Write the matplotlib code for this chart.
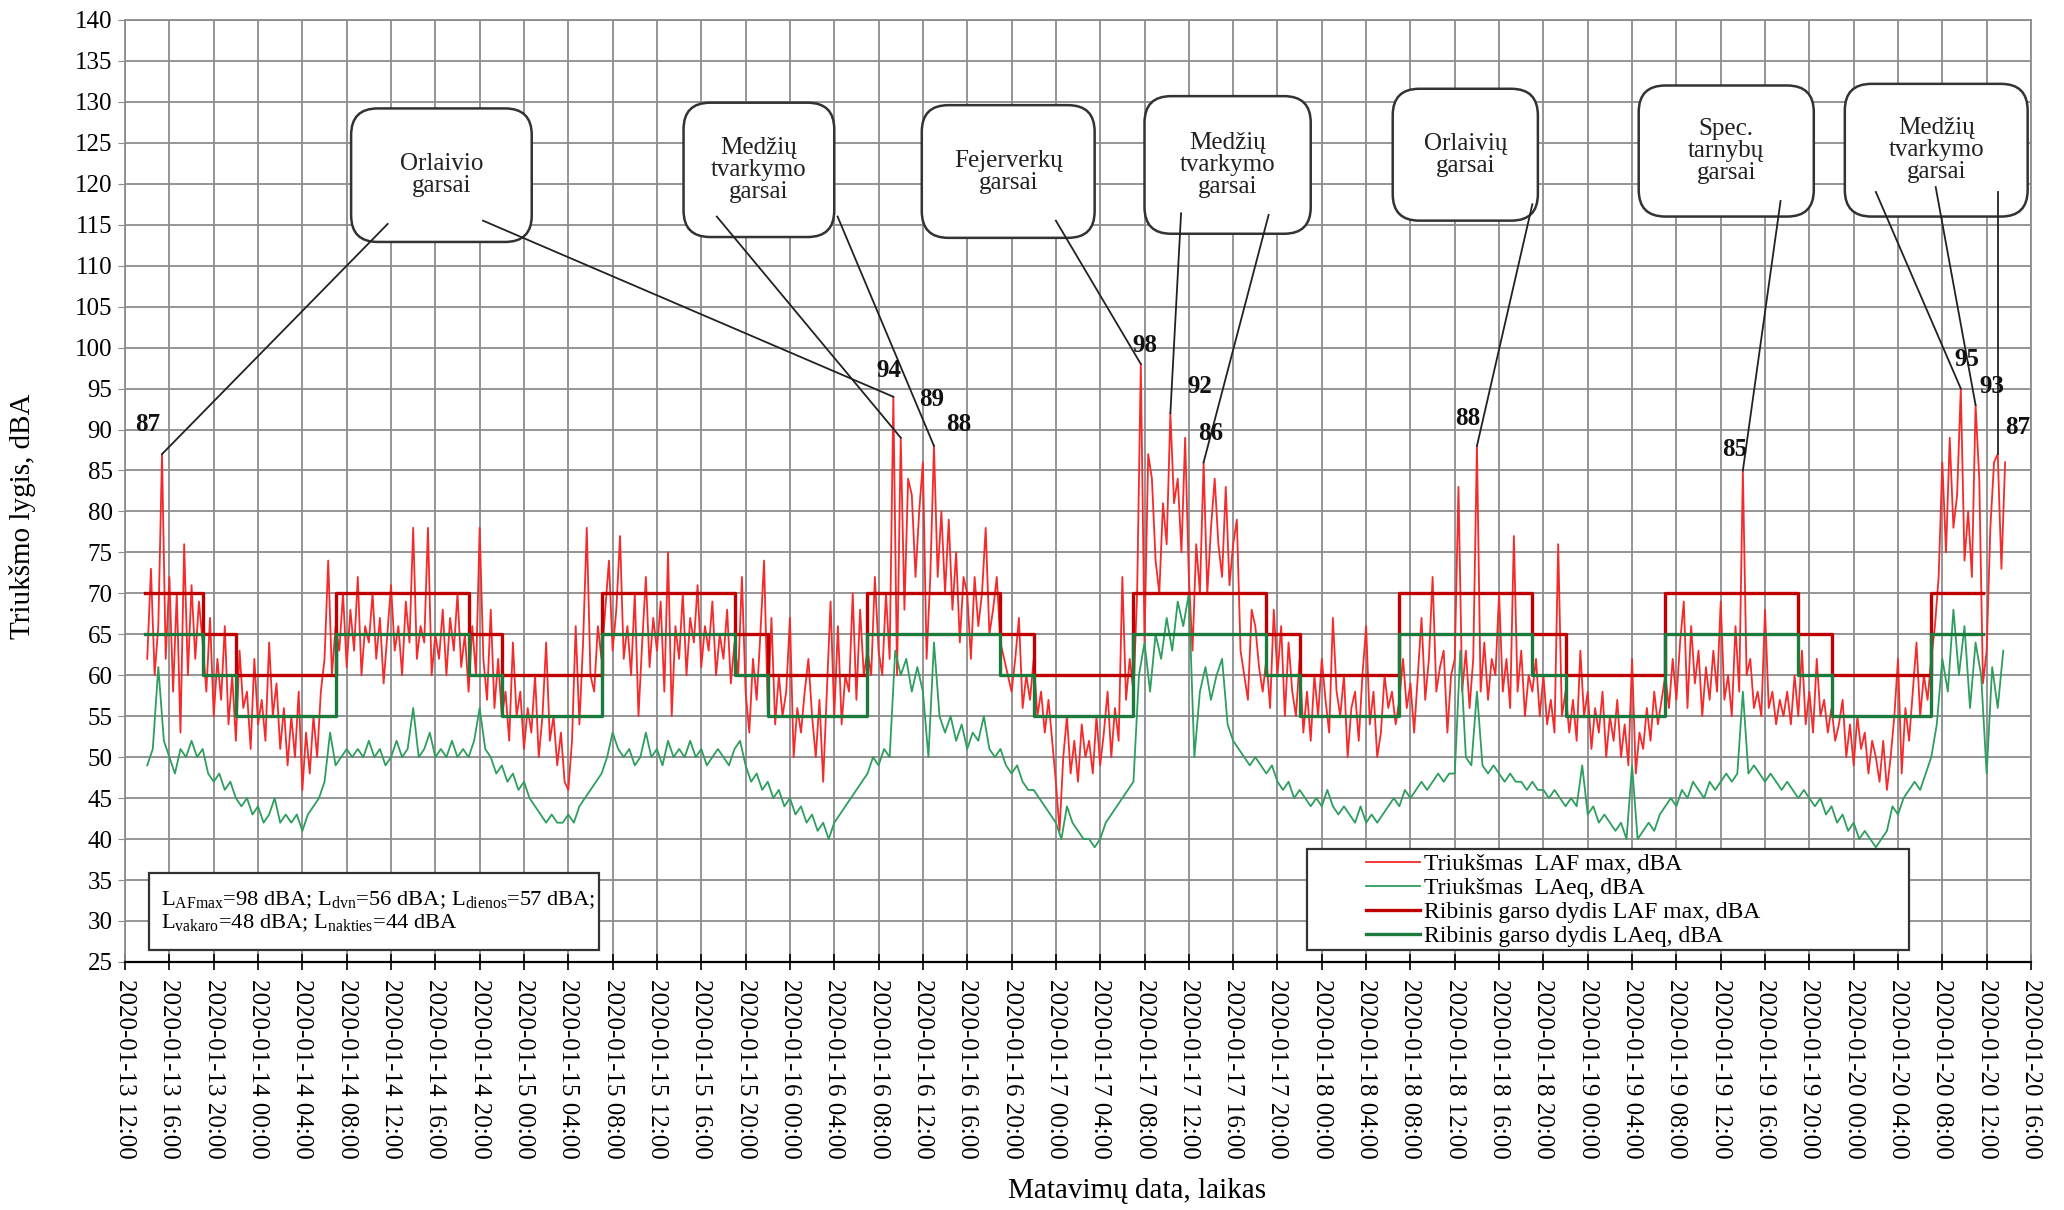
import numpy as np
import matplotlib.pyplot as plt
from matplotlib.patches import FancyBboxPatch, Rectangle
from datetime import datetime, timedelta

plt.rcParams['font.family'] = ['Liberation Serif', 'DejaVu Serif']
plt.rcParams['mathtext.fontset'] = 'custom'
plt.rcParams['mathtext.rm'] = 'Liberation Serif'
plt.rcParams['mathtext.it'] = 'Liberation Serif:italic'
plt.rcParams['mathtext.bf'] = 'Liberation Serif:bold'

# laiko pradzia: 2020-01-13 12:00, x asis valandomis
start = datetime(2020, 1, 13, 12, 0)
tick_hours = np.arange(0, 173, 4)

# Triuksmas LAF max, kas 20 min nuo 14:00 (h = 2.0)
laf_max = [
    62, 73, 60, 66, 87, 62, 72, 58, 70,   # 13d 14-17
    53, 76, 60, 71, 62, 69, 64, 58, 67,
    55, 62, 57, 66, 54, 60, 52, 63, 56,
    58, 51, 62, 54, 57, 52, 64, 55, 59,
    51, 56, 49, 55, 50, 58, 46, 53, 48,
    55, 50, 58, 62, 74, 60, 66, 63, 70,
    61, 68, 63, 72, 60, 66, 64, 70, 62,   # 14d 08-11
    67, 59, 65, 71, 63, 66, 60, 69, 64,
    78, 62, 66, 64, 78, 60, 65, 62, 68,
    60, 67, 63, 70, 61, 65, 58, 66, 60,
    78, 62, 57, 68, 56, 62, 55, 58, 52,
    64, 55, 58, 51, 56, 53, 60, 50, 55,
    64, 52, 55, 49, 53, 47, 46, 52, 66,
    54, 64, 78, 60, 58, 66, 62, 68, 74,
    63, 68, 77, 62, 66, 60, 70, 55, 64,   # 15d 08-11
    72, 61, 67, 63, 69, 58, 75, 55, 66,
    62, 70, 60, 67, 64, 71, 61, 66, 63,
    69, 60, 65, 62, 68, 59, 64, 60, 72,
    58, 53, 62, 57, 65, 74, 56, 67, 54,
    60, 55, 58, 67, 50, 56, 53, 58, 62,
    55, 50, 57, 47, 58, 69, 55, 66, 54,
    60, 58, 70, 57, 68, 60, 63, 60, 72,
    63, 60, 70, 62, 94, 60, 89, 68, 84,   # 16d 08-11
    82, 72, 80, 86, 62, 72, 88, 72, 80,
    70, 79, 68, 75, 64, 72, 70, 62, 72,
    66, 70, 78, 65, 68, 72, 64, 62, 60,
    58, 62, 67, 56, 60, 57, 62, 55, 58,
    53, 57, 52, 47, 41, 50, 55, 48, 52,
    47, 54, 50, 52, 48, 55, 49, 53, 58,
    50, 56, 52, 72, 57, 62, 58, 70, 98,
    64, 87, 84, 74, 70, 81, 76, 92, 81,   # 17d 08-11
    84, 75, 89, 72, 63, 76, 70, 86, 70,
    78, 84, 76, 72, 83, 71, 76, 79, 63,
    60, 57, 68, 66, 61, 58, 62, 56, 68,
    60, 66, 55, 64, 58, 55, 62, 53, 58,
    52, 60, 55, 62, 57, 53, 67, 58, 55,
    60, 50, 56, 58, 52, 60, 66, 54, 58,
    50, 53, 60, 56, 58, 54, 57, 62, 56,
    59, 53, 60, 67, 57, 62, 72, 58, 61,   # 18d 08-11
    63, 53, 60, 62, 83, 58, 63, 56, 62,
    88, 58, 64, 57, 62, 60, 70, 58, 62,
    56, 77, 58, 63, 55, 60, 58, 62, 55,
    60, 54, 57, 53, 76, 55, 58, 53, 57,
    52, 63, 55, 58, 51, 56, 53, 58, 50,
    55, 52, 57, 50, 54, 49, 62, 48, 53,
    51, 56, 52, 58, 54, 57, 60, 56, 62,
    57, 64, 69, 56, 66, 59, 63, 55, 61,   # 19d 08-11
    57, 63, 58, 69, 57, 60, 55, 66, 58,
    85, 60, 62, 56, 58, 55, 68, 56, 58,
    54, 57, 55, 58, 54, 60, 55, 63, 54,
    58, 53, 62, 55, 57, 53, 56, 52, 54,
    57, 50, 54, 49, 55, 51, 53, 48, 52,
    50, 47, 52, 46, 50, 55, 62, 48, 56,
    52, 58, 64, 55, 60, 57, 62, 66, 72,
    86, 75, 89, 78, 82, 95, 74, 80, 72,   # 20d 08-11
    93, 84, 59, 63, 78, 86, 87, 73, 86,
]

# Triuksmas LAeq, kas 30 min nuo 14:00
laeq = [
    49, 51, 61, 52, 50, 48, 51, 50, 52, 50, 51, 48,
    47, 48, 46, 47, 45, 44, 45, 43, 44, 42, 43, 45,
    42, 43, 42, 43, 41, 43, 44, 45, 47, 53, 49, 50,
    51, 50, 51, 50, 52, 50, 51, 49, 50, 52, 50, 51,
    56, 50, 51, 53, 50, 51, 50, 52, 50, 51, 50, 52,
    56, 51, 50, 48, 49, 47, 48, 46, 47, 45, 44, 43,
    42, 43, 42, 42, 43, 42, 44, 45, 46, 47, 48, 50,
    53, 51, 50, 51, 49, 50, 53, 50, 51, 49, 52, 50,
    51, 50, 52, 50, 51, 49, 50, 51, 50, 49, 51, 52,
    49, 47, 48, 46, 47, 45, 46, 44, 45, 43, 44, 42,
    43, 41, 42, 40, 42, 43, 44, 45, 46, 47, 48, 50,
    49, 51, 50, 63, 60, 62, 58, 61, 58, 50, 64, 55,
    53, 55, 52, 54, 51, 53, 52, 55, 51, 50, 51, 49,
    48, 49, 47, 46, 46, 45, 44, 43, 42, 40, 44, 42,
    41, 40, 40, 39, 40, 42, 43, 44, 45, 46, 47, 60,
    64, 58, 65, 62, 67, 63, 69, 66, 70, 50, 58, 61,
    57, 60, 62, 54, 52, 51, 50, 49, 50, 49, 48, 49,
    47, 46, 47, 45, 46, 45, 44, 45, 44, 46, 44, 43,
    44, 43, 42, 44, 42, 43, 42, 43, 44, 45, 44, 46,
    45, 46, 47, 46, 47, 48, 47, 48, 48, 63, 50, 49,
    58, 49, 48, 49, 48, 47, 48, 47, 47, 46, 47, 46,
    46, 45, 46, 45, 44, 45, 44, 49, 43, 44, 42, 43,
    42, 41, 42, 40, 49, 40, 41, 42, 41, 43, 44, 45,
    44, 46, 45, 47, 46, 45, 47, 46, 47, 48, 47, 48,
    58, 48, 49, 48, 47, 48, 47, 46, 47, 46, 45, 46,
    45, 44, 45, 43, 44, 42, 43, 41, 42, 40, 41, 40,
    39, 40, 41, 44, 43, 45, 46, 47, 46, 48, 50, 54,
    62, 58, 68, 60, 66, 56, 64, 60, 48, 61, 56, 63,
]

# ribiniai dydziai: diena 07-19, vakaras 19-22, naktis 22-07
limit_hours = [1.8, 7, 10, 19, 31, 34, 43, 55, 58, 67, 79, 82, 91,
               103, 106, 115, 127, 130, 139, 151, 154, 163, 167.7]
limit_laf = [70, 65, 60] * 7 + [70, 70]
limit_laeq = [65, 60, 55] * 7 + [65, 65]

t_laf = 2.0 + np.arange(len(laf_max)) / 3.0
t_laeq = 2.0 + np.arange(len(laeq)) * 0.5

# pastabos: tekstas, staciakampis (h0, h1, y0, y1), linijos (pradzia -> smailes laikas)
notes = [
    ('Orlaivio\ngarsai', (20.4, 36.7, 112.9, 129.2), [((23.7, 115.1), 3.33), ((32.3, 115.5), 69.33)]),
    ('Medžių\ntvarkymo\ngarsai', (50.4, 64.0, 113.5, 129.9), [((53.4, 116.0), 70.0), ((64.3, 116.0), 73.0)]),
    ('Fejerverkų\ngarsai', (71.9, 87.5, 113.4, 129.6), [((84.0, 115.5), 91.67)]),
    ('Medžių\ntvarkymo\ngarsai', (92.0, 107.0, 113.9, 130.7), [((95.3, 116.4), 94.33), ((103.2, 116.2), 97.33)]),
    ('Orlaivių\ngarsai', (114.4, 127.5, 115.5, 131.6), [((127.0, 117.5), 122.0)]),
    ('Spec.\ntarnybų\ngarsai', (136.6, 152.4, 116.0, 132.0), [((149.4, 117.9), 146.0)]),
    ('Medžių\ntvarkymo\ngarsai', (155.2, 171.7, 116.0, 132.2), [((158.0, 119.0), 165.67), ((163.4, 119.6), 167.0), ((169.0, 119.0), 169.0)]),
]
peak_labels = [(3.33, 2.0, 90.6), (69.33, 68.9, 97.2), (70.0, 72.8, 93.7), (73.0, 75.2, 90.6),
               (91.67, 92.0, 100.2), (94.33, 97.0, 95.2), (97.33, 98.0, 89.5),
               (122.0, 121.2, 91.3), (146.0, 145.3, 87.6),
               (165.67, 166.2, 98.6), (167.0, 168.5, 95.2), (169.0, 170.8, 90.2)]


def peak(t):
    i = np.argmin(np.abs(t_laf - t))
    return t_laf[i], laf_max[i]


fig = plt.figure(figsize=(20.64, 12.10), dpi=100)
ax = fig.add_axes([0.0606, 0.205, 0.9234, 0.7785])

ax.plot(t_laf, laf_max, color='#f52a2a', lw=1.3, zorder=3, label='Triukšmas  LAF max, dBA')
ax.plot(t_laeq, laeq, color='#2e9e5e', lw=1.3, zorder=4, label='Triukšmas  LAeq, dBA')
ax.plot(limit_hours, limit_laf, drawstyle='steps-post', color='#c00000', lw=2.4, zorder=5,
        label='Ribinis garso dydis LAF max, dBA')
ax.plot(limit_hours, limit_laeq, drawstyle='steps-post', color='#1b7a3c', lw=2.4, zorder=5,
        label='Ribinis garso dydis LAeq, dBA')

ax.set_xlim(0, 172)
ax.set_ylim(25, 140)
ax.set_yticks(np.arange(25, 141, 5))
ax.set_xticks(tick_hours)
ax.set_xticklabels([(start + timedelta(hours=int(h))).strftime('%Y-%m-%d %H:%M') for h in tick_hours],
                   rotation=-90, fontsize=18)
ax.tick_params(axis='y', labelsize=18, length=5, color='#8c8c8c', pad=4)
ax.tick_params(axis='x', direction='inout', length=12, width=1.2, pad=6)
ax.grid(True, color='#8c8c8c', lw=1.3, zorder=0)
ax.set_axisbelow(True)
for s in ['left', 'top', 'right']:
    ax.spines[s].set_color('#8c8c8c')
    ax.spines[s].set_linewidth(1.3)
ax.spines['bottom'].set_linewidth(1.6)
ax.set_ylabel('Triukšmo lygis, dBA', fontsize=21)
ax.yaxis.set_label_coords(-0.047, 0.473)
fig.text(0.551, 0.016, 'Matavimų data, laikas', fontsize=21, ha='center', va='center')

# pastabu langeliai
for txt, (h0, h1, y0, y1), leaders in notes:
    box = FancyBboxPatch((h0, y0), h1 - h0, y1 - y0,
                         boxstyle='round,pad=0,rounding_size=2.4', mutation_aspect=1.35,
                         facecolor='white', edgecolor='#333333', lw=1.8, zorder=6)
    ax.add_patch(box)
    ax.text((h0 + h1) / 2, (y0 + y1) / 2, txt, ha='center', va='center',
            fontsize=18, linespacing=1.0, color='#222222', zorder=8)
    for (sx, sy), pt in leaders:
        px, py = peak(pt)
        ax.plot([sx, px], [sy, py], color='#222222', lw=1.3, zorder=7)

for pt, lx, ly in peak_labels:
    ax.text(lx, ly, str(int(peak(pt)[1])), ha='center', va='center', fontsize=18,
            fontweight='bold', color='#111111', zorder=8)

# rodikliu langelis
ax.add_patch(Rectangle((0.0126, 0.013), 0.236, 0.0815, transform=ax.transAxes,
                       facecolor='white', edgecolor='#333333', lw=1.6, zorder=6))
ax.text(0.019, 0.0535,
        r'L$_{\mathrm{AFmax}}$=98 dBA; L$_{\mathrm{dvn}}$=56 dBA; L$_{\mathrm{dienos}}$=57 dBA;'
        '\n'
        r'L$_{\mathrm{vakaro}}$=48 dBA; L$_{\mathrm{nakties}}$=44 dBA',
        transform=ax.transAxes, fontsize=16.2, va='center', ha='left', linespacing=1.05, zorder=8)

# legenda
ax.add_patch(Rectangle((0.620, 0.013), 0.316, 0.107, transform=ax.transAxes,
                       facecolor='white', edgecolor='#333333', lw=1.6, zorder=6))
leg = ax.legend(loc='upper left', bbox_to_anchor=(0.651, 0.115), frameon=False, fontsize=17,
                handlelength=2.3, handletextpad=0.15, labelspacing=0.1, borderpad=0.0,
                borderaxespad=0.0)
leg.set_zorder(9)

plt.savefig('out.png', dpi=100)
